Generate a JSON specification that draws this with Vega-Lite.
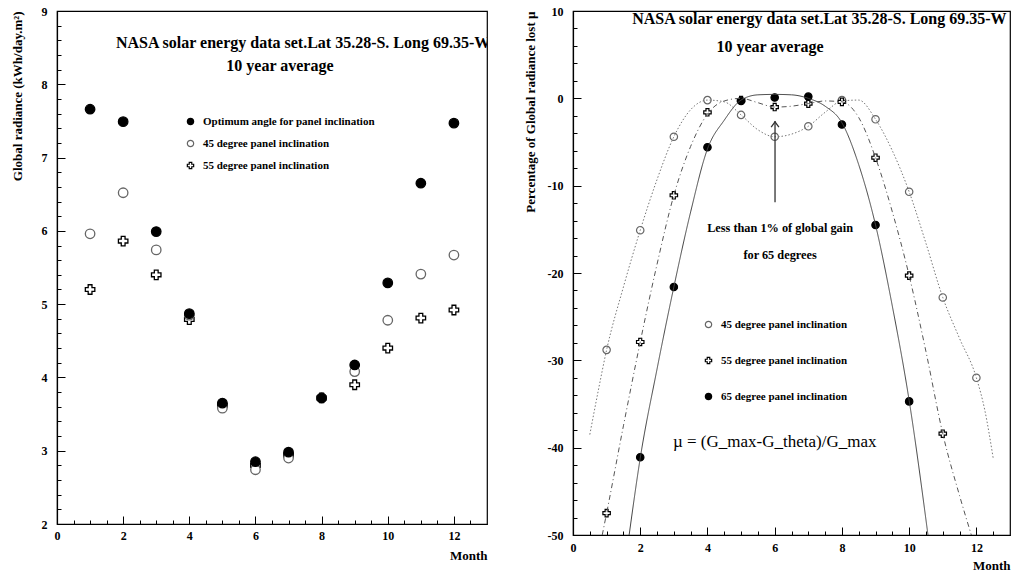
{
  "$schema": "https://vega.github.io/schema/vega-lite/v6.json",
  "background": "white",
  "padding": {"left": 10, "top": 4, "right": 5, "bottom": 5},
  "spacing": 35,
  "resolve": {"scale": {"shape": "independent", "fill": "independent", "stroke": "independent", "color": "independent", "strokeDash": "independent"}},
  "datasets": {
    "left": [
      {"month": 1, "value": 5.20, "series": "55 degree panel inclination"},
      {"month": 2, "value": 5.86, "series": "55 degree panel inclination"},
      {"month": 3, "value": 5.40, "series": "55 degree panel inclination"},
      {"month": 4, "value": 4.79, "series": "55 degree panel inclination"},
      {"month": 5, "value": 3.62, "series": "55 degree panel inclination"},
      {"month": 6, "value": 2.80, "series": "55 degree panel inclination"},
      {"month": 7, "value": 2.94, "series": "55 degree panel inclination"},
      {"month": 8, "value": 3.72, "series": "55 degree panel inclination"},
      {"month": 9, "value": 3.90, "series": "55 degree panel inclination"},
      {"month": 10, "value": 4.40, "series": "55 degree panel inclination"},
      {"month": 11, "value": 4.81, "series": "55 degree panel inclination"},
      {"month": 12, "value": 4.92, "series": "55 degree panel inclination"},
      {"month": 1, "value": 5.96, "series": "45 degree panel inclination"},
      {"month": 2, "value": 6.52, "series": "45 degree panel inclination"},
      {"month": 3, "value": 5.74, "series": "45 degree panel inclination"},
      {"month": 4, "value": 4.85, "series": "45 degree panel inclination"},
      {"month": 5, "value": 3.58, "series": "45 degree panel inclination"},
      {"month": 6, "value": 2.74, "series": "45 degree panel inclination"},
      {"month": 7, "value": 2.90, "series": "45 degree panel inclination"},
      {"month": 8, "value": 3.72, "series": "45 degree panel inclination"},
      {"month": 9, "value": 4.08, "series": "45 degree panel inclination"},
      {"month": 10, "value": 4.78, "series": "45 degree panel inclination"},
      {"month": 11, "value": 5.41, "series": "45 degree panel inclination"},
      {"month": 12, "value": 5.67, "series": "45 degree panel inclination"},
      {"month": 1, "value": 7.66, "series": "Optimum angle for panel inclination"},
      {"month": 2, "value": 7.49, "series": "Optimum angle for panel inclination"},
      {"month": 3, "value": 5.99, "series": "Optimum angle for panel inclination"},
      {"month": 4, "value": 4.87, "series": "Optimum angle for panel inclination"},
      {"month": 5, "value": 3.65, "series": "Optimum angle for panel inclination"},
      {"month": 6, "value": 2.85, "series": "Optimum angle for panel inclination"},
      {"month": 7, "value": 2.98, "series": "Optimum angle for panel inclination"},
      {"month": 8, "value": 3.72, "series": "Optimum angle for panel inclination"},
      {"month": 9, "value": 4.17, "series": "Optimum angle for panel inclination"},
      {"month": 10, "value": 5.29, "series": "Optimum angle for panel inclination"},
      {"month": 11, "value": 6.65, "series": "Optimum angle for panel inclination"},
      {"month": 12, "value": 7.47, "series": "Optimum angle for panel inclination"}
    ],
    "right": [
      {"month": 1, "loss": -28.8, "series": "45 degree panel inclination"},
      {"month": 2, "loss": -15.1, "series": "45 degree panel inclination"},
      {"month": 3, "loss": -4.4, "series": "45 degree panel inclination"},
      {"month": 4, "loss": -0.2, "series": "45 degree panel inclination"},
      {"month": 5, "loss": -1.9, "series": "45 degree panel inclination"},
      {"month": 6, "loss": -4.4, "series": "45 degree panel inclination"},
      {"month": 7, "loss": -3.2, "series": "45 degree panel inclination"},
      {"month": 8, "loss": -0.2, "series": "45 degree panel inclination"},
      {"month": 9, "loss": -2.4, "series": "45 degree panel inclination"},
      {"month": 10, "loss": -10.7, "series": "45 degree panel inclination"},
      {"month": 11, "loss": -22.8, "series": "45 degree panel inclination"},
      {"month": 12, "loss": -32.0, "series": "45 degree panel inclination"},
      {"month": 1, "loss": -47.5, "series": "55 degree panel inclination"},
      {"month": 2, "loss": -27.9, "series": "55 degree panel inclination"},
      {"month": 3, "loss": -11.1, "series": "55 degree panel inclination"},
      {"month": 4, "loss": -1.6, "series": "55 degree panel inclination"},
      {"month": 5, "loss": -0.2, "series": "55 degree panel inclination"},
      {"month": 6, "loss": -1.0, "series": "55 degree panel inclination"},
      {"month": 7, "loss": -0.6, "series": "55 degree panel inclination"},
      {"month": 8, "loss": -0.4, "series": "55 degree panel inclination"},
      {"month": 9, "loss": -6.8, "series": "55 degree panel inclination"},
      {"month": 10, "loss": -20.3, "series": "55 degree panel inclination"},
      {"month": 11, "loss": -38.4, "series": "55 degree panel inclination"},
      {"month": 2, "loss": -41.1, "series": "65 degree panel inclination"},
      {"month": 3, "loss": -21.6, "series": "65 degree panel inclination"},
      {"month": 4, "loss": -5.6, "series": "65 degree panel inclination"},
      {"month": 5, "loss": -0.3, "series": "65 degree panel inclination"},
      {"month": 6, "loss": 0.1, "series": "65 degree panel inclination"},
      {"month": 7, "loss": 0.2, "series": "65 degree panel inclination"},
      {"month": 8, "loss": -3.0, "series": "65 degree panel inclination"},
      {"month": 9, "loss": -14.5, "series": "65 degree panel inclination"},
      {"month": 10, "loss": -34.7, "series": "65 degree panel inclination"}
    ],
    "curves": [
      {"month": 0.5, "loss": -38.5, "series": "45"},
      {"month": 0.75, "loss": -33.5, "series": "45"},
      {"month": 1, "loss": -28.8, "series": "45"},
      {"month": 1.5, "loss": -21.6, "series": "45"},
      {"month": 2, "loss": -15.1, "series": "45"},
      {"month": 2.5, "loss": -9.3, "series": "45"},
      {"month": 3, "loss": -4.4, "series": "45"},
      {"month": 3.5, "loss": -1.3, "series": "45"},
      {"month": 4, "loss": -0.2, "series": "45"},
      {"month": 4.5, "loss": -0.4, "series": "45"},
      {"month": 5, "loss": -1.9, "series": "45"},
      {"month": 5.5, "loss": -3.6, "series": "45"},
      {"month": 6, "loss": -4.4, "series": "45"},
      {"month": 6.5, "loss": -4.1, "series": "45"},
      {"month": 7, "loss": -3.2, "series": "45"},
      {"month": 7.5, "loss": -1.6, "series": "45"},
      {"month": 8, "loss": -0.3, "series": "45"},
      {"month": 8.5, "loss": -0.2, "series": "45"},
      {"month": 9, "loss": -2.4, "series": "45"},
      {"month": 9.5, "loss": -6.0, "series": "45"},
      {"month": 10, "loss": -10.7, "series": "45"},
      {"month": 10.5, "loss": -16.6, "series": "45"},
      {"month": 11, "loss": -22.8, "series": "45"},
      {"month": 11.5, "loss": -27.5, "series": "45"},
      {"month": 12, "loss": -32.0, "series": "45"},
      {"month": 12.25, "loss": -35.7, "series": "45"},
      {"month": 12.5, "loss": -41.2, "series": "45"},
      {"month": 0.87, "loss": -50, "series": "55"},
      {"month": 1, "loss": -47.5, "series": "55"},
      {"month": 1.5, "loss": -37.5, "series": "55"},
      {"month": 2, "loss": -27.9, "series": "55"},
      {"month": 2.5, "loss": -19.0, "series": "55"},
      {"month": 3, "loss": -11.1, "series": "55"},
      {"month": 3.5, "loss": -5.5, "series": "55"},
      {"month": 4, "loss": -1.8, "series": "55"},
      {"month": 4.5, "loss": -0.3, "series": "55"},
      {"month": 5, "loss": 0.0, "series": "55"},
      {"month": 5.5, "loss": -0.5, "series": "55"},
      {"month": 6, "loss": -1.0, "series": "55"},
      {"month": 6.5, "loss": -0.9, "series": "55"},
      {"month": 7, "loss": -0.6, "series": "55"},
      {"month": 7.5, "loss": -0.3, "series": "55"},
      {"month": 8, "loss": -0.4, "series": "55"},
      {"month": 8.5, "loss": -2.2, "series": "55"},
      {"month": 9, "loss": -6.8, "series": "55"},
      {"month": 9.5, "loss": -13.0, "series": "55"},
      {"month": 10, "loss": -20.3, "series": "55"},
      {"month": 10.5, "loss": -29.0, "series": "55"},
      {"month": 11, "loss": -38.4, "series": "55"},
      {"month": 11.5, "loss": -45.5, "series": "55"},
      {"month": 11.85, "loss": -50, "series": "55"},
      {"month": 1.67, "loss": -50, "series": "65"},
      {"month": 2, "loss": -41.2, "series": "65"},
      {"month": 2.5, "loss": -31.0, "series": "65"},
      {"month": 3, "loss": -21.6, "series": "65"},
      {"month": 3.5, "loss": -13.0, "series": "65"},
      {"month": 4, "loss": -5.8, "series": "65"},
      {"month": 4.5, "loss": -2.5, "series": "65"},
      {"month": 5, "loss": -0.2, "series": "65"},
      {"month": 5.5, "loss": 0.4, "series": "65"},
      {"month": 6, "loss": 0.45, "series": "65"},
      {"month": 6.5, "loss": 0.4, "series": "65"},
      {"month": 7, "loss": 0.0, "series": "65"},
      {"month": 7.5, "loss": -0.9, "series": "65"},
      {"month": 8, "loss": -2.8, "series": "65"},
      {"month": 8.5, "loss": -7.6, "series": "65"},
      {"month": 9, "loss": -14.5, "series": "65"},
      {"month": 9.5, "loss": -23.8, "series": "65"},
      {"month": 10, "loss": -34.6, "series": "65"},
      {"month": 10.56, "loss": -50, "series": "65"}
    ]
  },
  "hconcat": [
    {
      "width": 430,
      "height": 513,
      "resolve": {"axis": {"x": "independent", "y": "independent"}},
      "layer": [
        {
          "data": {"name": "left"},
          "mark": {"type": "point", "strokeWidth": 1.3, "opacity": 1},
          "encoding": {
            "x": {
              "field": "month", "type": "quantitative",
              "scale": {"domain": [0, 13], "nice": false, "zero": false},
              "axis": {
                "orient": "bottom", "title": "Month", "titleAnchor": "end", "titleAlign": "right", "titlePadding": 8,
                "values": [0, 2, 4, 6, 8, 10, 12], "format": "d",
                "tickSize": -8, "labelPadding": 14
              }
            },
            "y": {
              "field": "value", "type": "quantitative",
              "scale": {"domain": [2, 9], "nice": false, "zero": false},
              "axis": {
                "orient": "left", "title": "Global radiance (kWh/day.m²)", "titleAnchor": "end", "titleAlign": "right", "titlePadding": 17,
                "values": [2, 3, 4, 5, 6, 7, 8, 9], "format": "d",
                "tickSize": -8, "labelPadding": 18
              }
            },
            "shape": {
              "field": "series", "type": "nominal",
              "scale": {"domain": ["Optimum angle for panel inclination", "45 degree panel inclination", "55 degree panel inclination"], "range": ["circle", "circle", "cross"]},
              "legend": {"orient": "none", "legendX": 128, "legendY": 105, "title": null, "rowPadding": 9}
            },
            "fill": {
              "field": "series", "type": "nominal",
              "scale": {"domain": ["Optimum angle for panel inclination", "45 degree panel inclination", "55 degree panel inclination"], "range": ["#000000", "#ffffff", "#ffffff"]},
              "legend": {"orient": "none", "legendX": 128, "legendY": 105, "title": null, "rowPadding": 9}
            },
            "stroke": {
              "field": "series", "type": "nominal",
              "scale": {"domain": ["Optimum angle for panel inclination", "45 degree panel inclination", "55 degree panel inclination"], "range": ["#000000", "#666666", "#000000"]},
              "legend": {"orient": "none", "legendX": 128, "legendY": 105, "title": null, "rowPadding": 9}
            },
            "size": {"value": 90}
          }
        },
        {
          "data": {"values": [{"label": "NASA solar energy data set.Lat 35.28-S. Long 69.35-W"}]},
          "mark": {"type": "text", "align": "left", "baseline": "middle", "font": "Liberation Serif", "fontWeight": "bold", "fontSize": 16, "clip": true, "color": "#000"},
          "encoding": {
            "x": {
              "datum": 1.78, "type": "quantitative",
              "axis": {
                "orient": "bottom", "title": null, "labels": false, "domain": false, "tickSize": -4,
                "values": [0,0.5,1,1.5,2,2.5,3,3.5,4,4.5,5,5.5,6,6.5,7,7.5,8,8.5,9,9.5,10,10.5,11,11.5,12,12.5]
              }
            },
            "y": {
              "datum": 8.56, "type": "quantitative",
              "axis": {
                "orient": "left", "title": null, "labels": false, "domain": false, "tickSize": -4,
                "values": [2,2.2,2.4,2.6,2.8,3,3.2,3.4,3.6,3.8,4,4.2,4.4,4.6,4.8,5,5.2,5.4,5.6,5.8,6,6.2,6.4,6.6,6.8,7,7.2,7.4,7.6,7.8,8,8.2,8.4,8.6,8.8,9]
              }
            },
            "text": {"field": "label"}
          }
        },
        {
          "data": {"values": [{"label": "10 year average"}]},
          "mark": {"type": "text", "align": "center", "baseline": "middle", "font": "Liberation Serif", "fontWeight": "bold", "fontSize": 16, "color": "#000"},
          "encoding": {
            "x": {"datum": 6.74, "type": "quantitative", "axis": null},
            "y": {"datum": 8.25, "type": "quantitative", "axis": null},
            "text": {"field": "label"}
          }
        }
      ]
    },
    {
      "width": 437,
      "height": 524,
      "resolve": {"axis": {"x": "independent", "y": "independent"}},
      "layer": [
        {
          "data": {"name": "right"},
          "mark": {"type": "point", "strokeWidth": 1.2, "opacity": 1},
          "encoding": {
            "x": {
              "field": "month", "type": "quantitative",
              "scale": {"domain": [0, 13], "nice": false, "zero": false},
              "axis": {
                "orient": "bottom", "title": "Month", "titleAnchor": "end", "titleAlign": "right", "titlePadding": 6,
                "values": [0, 2, 4, 6, 8, 10, 12], "format": "d",
                "tickSize": -8, "labelPadding": 15
              }
            },
            "y": {
              "field": "loss", "type": "quantitative",
              "scale": {"domain": [-50, 10], "nice": false, "zero": false},
              "axis": {
                "orient": "left", "title": "Percentage of Global radiance lost µ", "titleAnchor": "end", "titleAlign": "right", "titlePadding": 10,
                "values": [-50, -40, -30, -20, -10, 0, 10],
                "labelExpr": "'' + datum.value",
                "tickSize": -8, "labelPadding": 18
              }
            },
            "shape": {
              "field": "series", "type": "nominal",
              "scale": {"domain": ["45 degree panel inclination", "55 degree panel inclination", "65 degree panel inclination"], "range": ["circle", "cross", "circle"]},
              "legend": {"orient": "none", "legendX": 130, "legendY": 308, "title": null, "rowPadding": 23}
            },
            "fill": {
              "field": "series", "type": "nominal",
              "scale": {"domain": ["45 degree panel inclination", "55 degree panel inclination", "65 degree panel inclination"], "range": ["#ffffff", "#ffffff", "#000000"]},
              "legend": {"orient": "none", "legendX": 130, "legendY": 308, "title": null, "rowPadding": 23}
            },
            "stroke": {
              "field": "series", "type": "nominal",
              "scale": {"domain": ["45 degree panel inclination", "55 degree panel inclination", "65 degree panel inclination"], "range": ["#666666", "#000000", "#000000"]},
              "legend": {"orient": "none", "legendX": 130, "legendY": 308, "title": null, "rowPadding": 23}
            },
            "size": {"value": 55}
          }
        },
        {
          "data": {"name": "curves"},
          "mark": {"type": "line", "interpolate": "monotone", "strokeWidth": 1, "clip": true},
          "encoding": {
            "x": {
              "field": "month", "type": "quantitative",
              "axis": {
                "orient": "bottom", "title": null, "labels": false, "domain": false, "tickSize": -4,
                "values": [0,0.5,1,1.5,2,2.5,3,3.5,4,4.5,5,5.5,6,6.5,7,7.5,8,8.5,9,9.5,10,10.5,11,11.5,12,12.5]
              }
            },
            "y": {
              "field": "loss", "type": "quantitative",
              "axis": {
                "orient": "left", "title": null, "labels": false, "domain": false, "tickSize": -4,
                "values": [-50,-48,-46,-44,-42,-40,-38,-36,-34,-32,-30,-28,-26,-24,-22,-20,-18,-16,-14,-12,-10,-8,-6,-4,-2,0,2,4,6,8,10]
              }
            },
            "detail": {"field": "series"},
            "color": {"field": "series", "type": "nominal", "scale": {"domain": ["45", "55", "65"], "range": ["#777777", "#555555", "#444444"]}, "legend": null},
            "strokeDash": {"field": "series", "type": "nominal", "scale": {"domain": ["45", "55", "65"], "range": [[1.5, 2], [5, 3, 1, 3], [1, 0]]}, "legend": null}
          }
        },
        {
          "data": {"values": [{"label": "NASA solar energy data set.Lat 35.28-S. Long 69.35-W"}]},
          "mark": {"type": "text", "align": "left", "baseline": "middle", "font": "Liberation Serif", "fontWeight": "bold", "fontSize": 16, "clip": true, "color": "#000"},
          "encoding": {
            "x": {"datum": 1.76, "type": "quantitative", "axis": null},
            "y": {"datum": 9.05, "type": "quantitative", "axis": null},
            "text": {"field": "label"}
          }
        },
        {
          "data": {"values": [{"label": "10 year average"}]},
          "mark": {"type": "text", "align": "center", "baseline": "middle", "font": "Liberation Serif", "fontWeight": "bold", "fontSize": 16, "color": "#000"},
          "encoding": {
            "x": {"datum": 5.86, "type": "quantitative", "axis": null},
            "y": {"datum": 5.9, "type": "quantitative", "axis": null},
            "text": {"field": "label"}
          }
        },
        {
          "data": {"values": [{"label": ["Less than 1% of global gain", "for 65 degrees"]}]},
          "mark": {"type": "text", "align": "center", "baseline": "middle", "lineHeight": 27, "font": "Liberation Serif", "fontWeight": "bold", "fontSize": 12.3, "color": "#000"},
          "encoding": {
            "x": {"datum": 6.16, "type": "quantitative", "axis": null},
            "y": {"datum": -14.9, "type": "quantitative", "axis": null},
            "text": {"field": "label"}
          }
        },
        {
          "data": {"values": [{"label": "µ = (G_max-G_theta)/G_max"}]},
          "mark": {"type": "text", "align": "center", "baseline": "middle", "font": "Liberation Serif", "fontSize": 17, "color": "#000"},
          "encoding": {
            "x": {"datum": 6.0, "type": "quantitative", "axis": null},
            "y": {"datum": -39.3, "type": "quantitative", "axis": null},
            "text": {"field": "label"}
          }
        },
        {
          "data": {"values": [{"label": "arrow"}]},
          "mark": {"type": "rule", "color": "#333", "strokeWidth": 1.3},
          "encoding": {
            "x": {"datum": 6.01, "type": "quantitative", "axis": null},
            "y": {"datum": -11.9, "type": "quantitative", "axis": null},
            "y2": {"datum": -2.6}
          }
        },
        {
          "data": {"values": [{"label": "arrowhead"}]},
          "mark": {"type": "point", "shape": "M-1,0.7L0,-0.7L1,0.7", "filled": false, "color": "#333", "strokeWidth": 1.3, "size": 60, "opacity": 1},
          "encoding": {
            "x": {"datum": 6.01, "type": "quantitative", "axis": null},
            "y": {"datum": -3.0, "type": "quantitative", "axis": null}
          }
        }
      ]
    }
  ],
  "config": {
    "font": "Liberation Serif",
    "view": {"stroke": "#000000", "strokeWidth": 1.2},
    "axis": {
      "grid": false, "domainColor": "#000000", "domainWidth": 1.2, "tickColor": "#000000", "tickWidth": 1,
      "labelFont": "Liberation Serif", "labelFontWeight": "bold", "labelFontSize": 12, "labelColor": "#000000",
      "labelOverlap": false, "labelFlush": false,
      "titleFont": "Liberation Serif", "titleFontWeight": "bold", "titleFontSize": 13, "titleColor": "#000000"
    },
    "legend": {
      "labelFont": "Liberation Serif", "labelFontWeight": "bold", "labelFontSize": 11, "labelColor": "#000000",
      "symbolSize": 40, "symbolStrokeWidth": 1.2, "labelOffset": 7, "labelLimit": 300
    }
  }
}
